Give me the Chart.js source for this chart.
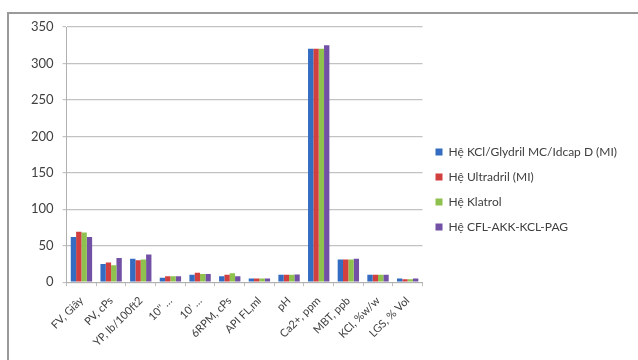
<!DOCTYPE html>
<html>
<head>
<meta charset="utf-8">
<script src="https://cdn.jsdelivr.net/npm/chart.js@4/dist/chart.umd.min.js"></script>
<style>
  html, body { margin: 0; padding: 0; background: #fff; }
  #wrap { position: relative; width: 638px; height: 360px; overflow: hidden; }
  #frame { position: absolute; left: 7px; top: 12px; width: 700px; height: 420px; border: 2px solid #9a9a9a; box-sizing: border-box; }
  #c { position: absolute; left: 0; top: 0; }
</style>
</head>
<body>
<div id="wrap">
  <div id="frame"></div>
  <canvas id="c" width="638" height="360"></canvas>
</div>
<script>
// Mud property categories
const categories = ["FV, Giây", "PV, cPs", "YP, lb/100ft2", "10'' …", "10' …", "6RPM, cPs", "API FL,ml", "pH", "Ca2+, ppm", "MBT, ppb", "KCl, %w/w", "LGS, % Vol"];

// Values per mud system
const kclGlydril = [62, 25, 32, 6, 10, 8, 5, 10, 320, 31, 10, 5];
const ultradril  = [69, 27, 30, 8, 13, 10, 5, 10, 320, 31, 10, 4];
const klatrol    = [68, 23, 31, 8, 11, 12, 5, 10, 320, 31, 10, 4];
const cflPag     = [62, 33, 38, 8, 11, 8, 5, 10.5, 325, 32, 10, 5];

const seriesNames = ["Hệ KCl/Glydril MC/Idcap D (MI)", "Hệ Ultradril (MI)", "Hệ Klatrol", "Hệ CFL-AKK-KCL-PAG"];
const seriesColors = ["#336cc0", "#d13f3f", "#8ec14e", "#7150a6"];

// Y axis ticks
const yTicks = [0, 50, 100, 150, 200, 250, 300, 350];

const seriesData = [kclGlydril, ultradril, klatrol, cflPag];

// Place the legend block beside the plot, centred on plot + labels
const legendShift = {
  id: 'legendShift',
  afterLayout(chart) {
    const lg = chart.legend;
    const h = lg.bottom - lg.top;
    lg.top = 133;
    lg.bottom = lg.top + h;
  }
};

new Chart(document.getElementById('c'), {
  type: 'bar',
  data: {
    labels: categories,
    datasets: seriesData.map((d, i) => ({
      label: seriesNames[i],
      data: d,
      backgroundColor: seriesColors[i],
      borderWidth: 0,
      categoryPercentage: 0.72,
      barPercentage: 1.0
    }))
  },
  options: {
    responsive: false,
    animation: false,
    layout: { padding: { left: 22, top: 27, right: 11, bottom: 3 } },
    plugins: {
      tooltip: { enabled: false },
      legend: {
        position: 'right',
        align: 'start',
        maxWidth: 230,
        labels: {
          boxWidth: 7,
          boxHeight: 7,
          padding: 13,
          color: '#404040',
          font: { family: 'Lato', size: 12 }
        }
      }
    },
    scales: {
      x: {
        grid: { drawOnChartArea: false, drawTicks: true, tickLength: 4, color: '#bdbdbd' },
        border: { color: '#b0b0b0', width: 1 },
        ticks: {
          minRotation: 45, maxRotation: 45, autoSkip: false,
          color: '#404040',
          font: { family: 'Lato', size: 11 },
          padding: 8
        }
      },
      y: {
        min: 0, max: 350,
        afterBuildTicks(axis) { axis.ticks = yTicks.map(v => ({ value: v })); },
        grid: { color: '#c2c2c2', lineWidth: 1.2, tickLength: 4 },
        border: { color: '#b0b0b0', width: 1 },
        ticks: {
          color: '#404040',
          font: { family: 'Lato', size: 13 },
          padding: 9
        }
      }
    }
  },
  plugins: [legendShift]
});
</script>
</body>
</html>
